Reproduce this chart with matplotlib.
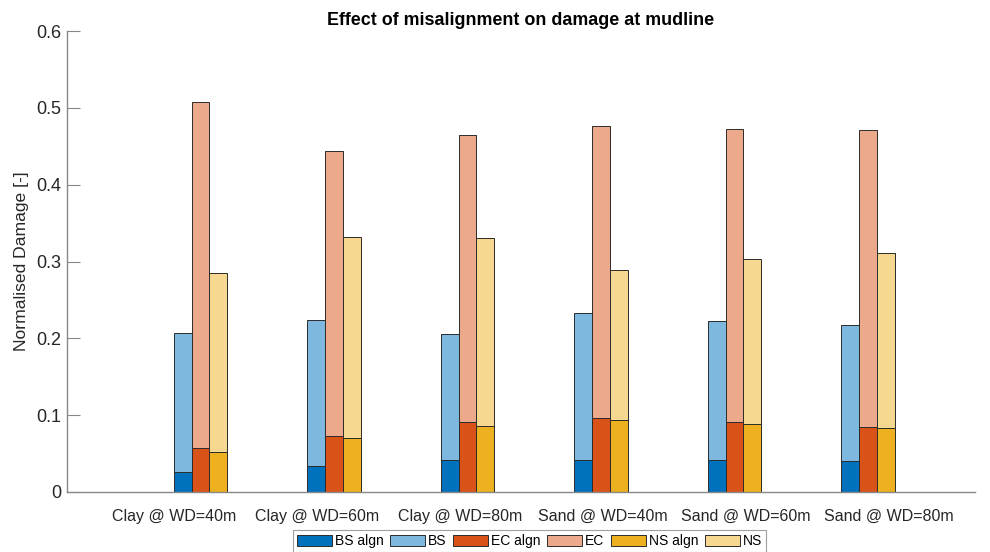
import numpy as np
import matplotlib
matplotlib.use("Agg")
import matplotlib.pyplot as plt

plt.rcParams['font.family'] = ['Liberation Sans', 'DejaVu Sans']

categories = ["Clay @ WD=40m", "Clay @ WD=60m", "Clay @ WD=80m",
              "Sand @ WD=40m", "Sand @ WD=60m", "Sand @ WD=80m"]

# Aligned damage (bottom segment) and total damage (top of stacked bar)
bs_algn = [0.026, 0.034, 0.042, 0.041, 0.041, 0.040]
bs_total = [0.207, 0.224, 0.205, 0.233, 0.222, 0.218]
ec_algn = [0.057, 0.073, 0.091, 0.096, 0.091, 0.085]
ec_total = [0.508, 0.444, 0.465, 0.476, 0.473, 0.471]
ns_algn = [0.052, 0.070, 0.086, 0.094, 0.089, 0.083]
ns_total = [0.285, 0.332, 0.330, 0.289, 0.303, 0.311]

yticks = [0, 0.1, 0.2, 0.3, 0.4, 0.5, 0.6]
ytick_labels = ["0", "0.1", "0.2", "0.3", "0.4", "0.5", "0.6"]

colors_dark = ["#0072BD", "#D95319", "#EDB120"]
colors_light = ["#7FB8DE", "#ECA98C", "#F6D890"]

fig = plt.figure(figsize=(9.9, 5.52), dpi=100)
ax = fig.add_axes([67 / 990, 60 / 552, 908 / 990, 461 / 552])

idx = np.arange(len(categories))
width = 0.1253
centers = 0.1855 + 0.9342 * idx
edge = "#2b2b2b"

handles = []
for k, (algn, total) in enumerate([(bs_algn, bs_total), (ec_algn, ec_total), (ns_algn, ns_total)]):
    algn = np.array(algn)
    total = np.array(total)
    xpos = centers + (k - 1) * width
    h1 = ax.bar(xpos, algn, width=width, color=colors_dark[k], edgecolor=edge, linewidth=0.7)
    h2 = ax.bar(xpos, total - algn, bottom=algn, width=width, color=colors_light[k],
                edgecolor=edge, linewidth=0.7)
    handles += [h1, h2]

ax.set_xlim(-0.749, 5.605)
ax.set_ylim(0, 0.6)
ax.set_xticks(idx)
ax.set_xticklabels(categories, fontsize=11.5, color="#262626")
ax.set_yticks(yticks)
ax.set_yticklabels(ytick_labels, fontsize=13, color="#262626")
ax.tick_params(axis='x', length=0, pad=12)
ax.tick_params(axis='y', direction='in', length=9, width=0.8, color="#888888", pad=4)

for s in ["top", "right"]:
    ax.spines[s].set_visible(False)
for s in ["left", "bottom"]:
    ax.spines[s].set_color("#888888")
    ax.spines[s].set_linewidth(1.0)

ax.set_ylabel("Normalised Damage [-]", fontsize=12.6, color="#262626", labelpad=5)
ax.set_title("Effect of misalignment on damage at mudline", fontsize=12.9,
             fontweight="bold", pad=4)

labels = ["BS algn", "BS", "EC algn", "EC", "NS algn", "NS"]
leg = fig.legend(handles, labels, ncol=6, loc="upper center",
                 bbox_to_anchor=(529.5 / 990, 22 / 552), fontsize=10,
                 frameon=True, fancybox=False, edgecolor="#888888",
                 handlelength=2.5, handleheight=0.9, handletextpad=0.2,
                 columnspacing=0.5, borderpad=0.3, borderaxespad=0.0)
leg.get_frame().set_linewidth(0.8)

fig.savefig("out.png", dpi=100)
